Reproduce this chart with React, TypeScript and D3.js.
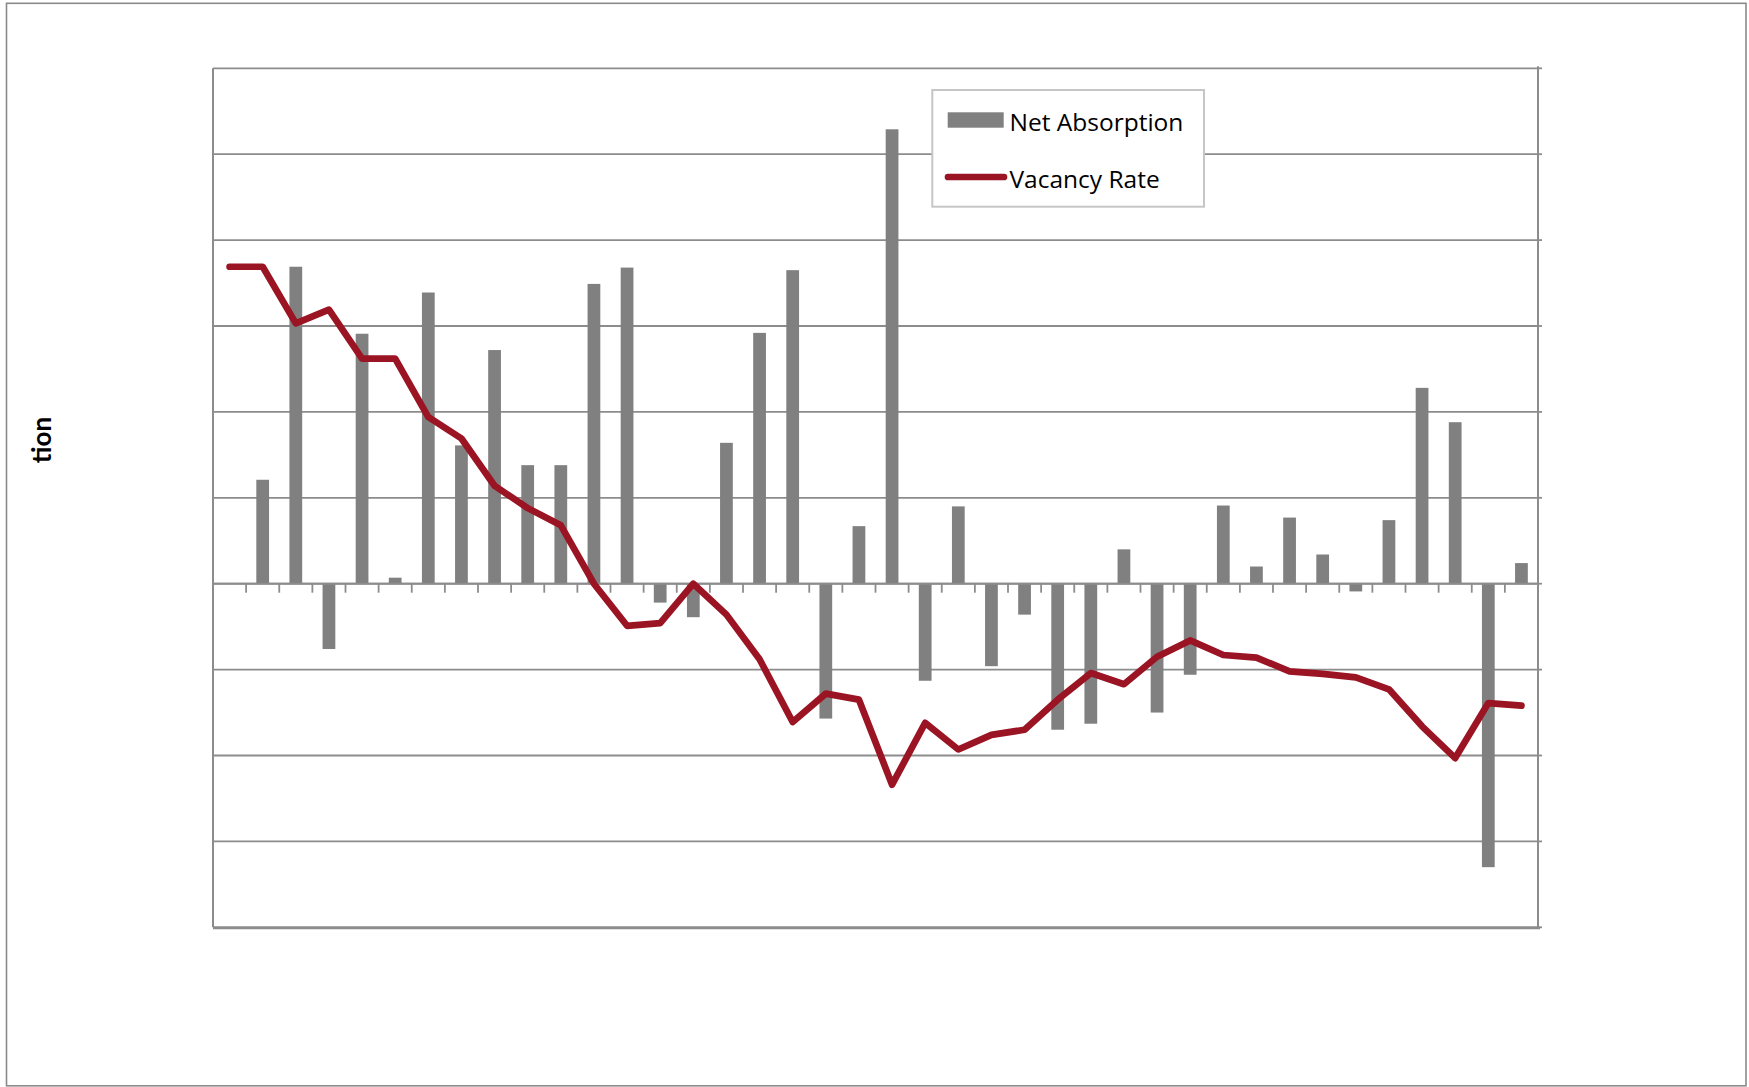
import React from "react";
import * as d3 from "d3";

// Quarterly net absorption (bars, left scale) and vacancy rate (line, right scale, %)
const netAbsorption: (number | null)[] = [
  null, 121, 369, -76, 291, 7, 339, 161, 272, 138,
  138, 349, 368, -22, -39, 164, 292, 365, -157, 67,
  529, -113, 90, -96, -36, -170, -163, 40, -150, -106,
  91, 20, 77, 34, -9, 74, 228, 188, -330, 24,
];

const vacancyRate: number[] = [
  11.69, 11.69, 11.03, 11.19, 10.62, 10.62, 9.94, 9.69, 9.14, 8.88,
  8.68, 8.0, 7.51, 7.54, 8.0, 7.64, 7.12, 6.39, 6.72, 6.65,
  5.66, 6.38, 6.07, 6.24, 6.3, 6.65, 6.96, 6.83, 7.15, 7.34,
  7.17, 7.14, 6.98, 6.95, 6.91, 6.77, 6.34, 5.97, 6.61, 6.58,
];

const absorptionTicks = [-400, -300, -200, -100, 0, 100, 200, 300, 400, 500, 600];
const vacancyDomain: [number, number] = [4, 14];
const seriesNames = ["Net Absorption", "Vacancy Rate"];
const axisTitle = "tion";

const W = 1749;
const H = 1087;
const plot = { left: 213, right: 1538, top: 68.3, bottom: 927.3 };

const BAR_COLOR = "#808080";
const LINE_COLOR = "#9b1424";
const GRID_COLOR = "#8c8c8c";
const LEGEND_FONT = "'Open Sans', 'Noto Sans', sans-serif";
const TITLE_FONT = "Lato, 'Open Sans', sans-serif";

export default function App() {
  const periods = d3.range(netAbsorption.length);

  const x = d3
    .scaleBand<number>()
    .domain(periods)
    .range([plot.left, plot.right])
    .padding(0);
  const bw = x.bandwidth();
  const barW = bw * 0.385;
  const cx = (i: number) => (x(i) as number) + bw / 2;

  const y = d3
    .scaleLinear()
    .domain([absorptionTicks[0], absorptionTicks[absorptionTicks.length - 1]])
    .range([plot.bottom, plot.top]);

  const yv = d3.scaleLinear().domain(vacancyDomain).range([plot.bottom, plot.top]);

  const line = d3
    .line<number>()
    .x((_, i) => cx(i))
    .y((d) => yv(d));

  const y0 = y(0);

  return (
    <svg
      width={W}
      height={H}
      style={{ position: "absolute", left: 0, top: 0, background: "#fff" }}
    >
      {/* outer chart frame */}
      <rect x={6.5} y={3.3} width={1739.5} height={1082.5} fill="#fff" stroke="#8a8a8a" strokeWidth={1.6} />

      {/* horizontal gridlines */}
      {absorptionTicks.map((t) => (
        <line
          key={"g" + t}
          x1={plot.left}
          x2={plot.right}
          y1={y(t)}
          y2={y(t)}
          stroke={GRID_COLOR}
          strokeWidth={1.8}
        />
      ))}

      {/* right axis tick marks */}
      {absorptionTicks.map((t) => (
        <line
          key={"r" + t}
          x1={plot.right}
          x2={plot.right + 4}
          y1={y(t)}
          y2={y(t)}
          stroke={GRID_COLOR}
          strokeWidth={1.8}
        />
      ))}

      {/* plot area border */}
      <line x1={plot.left} x2={plot.left} y1={plot.top} y2={plot.bottom} stroke={GRID_COLOR} strokeWidth={2} />
      <line x1={plot.right} x2={plot.right} y1={plot.top - 2} y2={plot.bottom + 1} stroke={GRID_COLOR} strokeWidth={2} />
      <line x1={plot.left} x2={plot.right + 2} y1={plot.bottom + 0.5} y2={plot.bottom + 0.5} stroke={GRID_COLOR} strokeWidth={2.8} />

      {/* net absorption bars */}
      {netAbsorption.map((v, i) =>
        v == null ? null : (
          <rect
            key={"b" + i}
            x={cx(i) - barW / 2}
            y={Math.min(y(v), y0)}
            width={barW}
            height={Math.abs(y(v) - y0)}
            fill={BAR_COLOR}
          />
        )
      )}

      {/* category axis at zero */}
      <line x1={plot.left} x2={plot.right} y1={y0} y2={y0} stroke={GRID_COLOR} strokeWidth={2} />
      {periods.slice(1).map((p) => (
        <line
          key={"t" + p}
          x1={x(p) as number}
          x2={x(p) as number}
          y1={y0}
          y2={y0 + 9}
          stroke={GRID_COLOR}
          strokeWidth={1.8}
        />
      ))}

      {/* vacancy rate line */}
      <path
        d={line(vacancyRate) as string}
        fill="none"
        stroke={LINE_COLOR}
        strokeWidth={6.7}
        strokeLinejoin="round"
        strokeLinecap="round"
      />

      {/* axis title */}
      <text
        transform="translate(51,440) rotate(-90)"
        textAnchor="middle"
        fontFamily={TITLE_FONT}
        fontWeight={700}
        fontSize={26}
        fill="#000"
      >
        {axisTitle}
      </text>

      {/* legend */}
      <g>
        <rect x={932.3} y={90} width={271.7} height={116.7} fill="#fff" stroke="#c6c6c6" strokeWidth={2} />
        <rect x={947.7} y={112.3} width={56} height={15.4} fill={BAR_COLOR} />
        <text x={1009.5} y={130.7} fontFamily={LEGEND_FONT} fontSize={24.5} fill="#000">
          {seriesNames[0]}
        </text>
        <line x1={948} x2={1004} y1={177} y2={177} stroke={LINE_COLOR} strokeWidth={6.7} strokeLinecap="round" />
        <text x={1009.5} y={188.3} fontFamily={LEGEND_FONT} fontSize={24.5} fill="#000">
          {seriesNames[1]}
        </text>
      </g>
    </svg>
  );
}
